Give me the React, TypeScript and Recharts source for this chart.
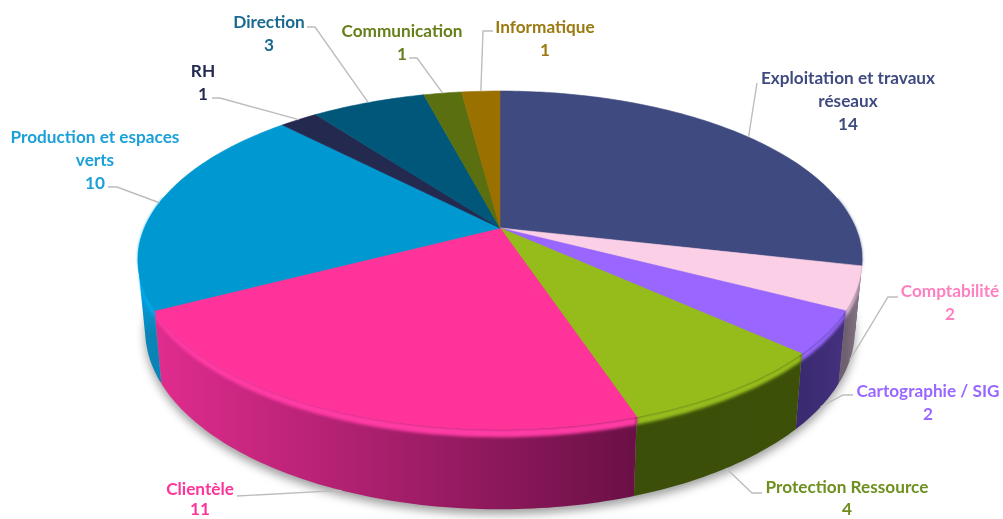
import { Pie, PieChart } from "recharts";

const names = [
  "Exploitation et travaux réseaux",
  "Comptabilité",
  "Cartographie / SIG",
  "Protection Ressource",
  "Clientèle",
  "Production et espaces verts",
  "RH",
  "Direction",
  "Communication",
  "Informatique",
];
const values = [14, 2, 2, 4, 11, 10, 1, 3, 1, 1];
const topColors = ["#3f4b80", "#fbcfe6", "#9966ff", "#95bc1a", "#ff3399", "#0098d0", "#23294f", "#00577a", "#5a7010", "#9a7000"];
const rimColors = ["#3f4b80", "#fbcfe6", "#9966ff", "#95bc1a", "#ff3aa4", "#00aef2", "#23294f", "#00577a", "#5a7010", "#9a7000"];
const textColors = ["#3f4b80", "#ff80c0", "#9966ff", "#6f8f20", "#ff3399", "#1ca0d8", "#23294f", "#1a6a90", "#667f1a", "#9a7a10"];
const sideFrom = ["#2a3460", "#6f6070", "#3a2a70", "#3c4f0a", "#e02c8e", "#00a6e8", "#23294f", "#00577a", "#5a7010", "#9a7000"];
const sideTo = ["#1d2545", "#8a7888", "#45307d", "#3d5008", "#6a1046", "#0a84b6", "#23294f", "#00577a", "#5a7010", "#9a7000"];

// label placement, one per slice: text lines centre x, first line y, line gap, leader elbow + text end, depth of the anchor
const labelLines = [
  ["Exploitation et travaux", "réseaux", "14"],
  ["Comptabilité", "2"],
  ["Cartographie / SIG", "2"],
  ["Protection Ressource", "4"],
  ["Clientèle", "11"],
  ["Production et espaces", "verts", "10"],
  ["RH", "1"],
  ["Direction", "3"],
  ["Communication", "1"],
  ["Informatique", "1"],
];
const labelPos = [
  { x: 848, y: 78, gap: 23, start: [757, 83], elbow: null, depth: 0 },
  { x: 950, y: 291, gap: 23, start: [898, 297], elbow: [888, 297], depth: 1 },
  { x: 928, y: 391, gap: 23, start: [853, 395], elbow: [843, 395], depth: 1 },
  { x: 847, y: 487, gap: 22, start: [762, 493], elbow: [752, 493], depth: 1 },
  { x: 200, y: 489, gap: 20, start: [237, 496], elbow: null, depth: 1 },
  { x: 95, y: 137, gap: 23, start: [108, 187], elbow: [117, 187], depth: 0 },
  { x: 203, y: 71, gap: 23, start: [212, 98], elbow: [220, 98], depth: 0 },
  { x: 269, y: 22, gap: 23, start: [307, 27], elbow: [315, 27], depth: 0 },
  { x: 402, y: 31, gap: 23, start: [409, 58], elbow: [417, 58], depth: 0 },
  { x: 545, y: 27, gap: 23, start: [493, 31], elbow: [483, 31], depth: 0 },
];

const data = names.map((name, i) => ({ name, value: values[i], fill: topColors[i] }));
const wholeDisc = [{ name: "disc", value: values.reduce((a, b) => a + b, 0), fill: "#000" }];

const CX = 500;
const CY = 228;
const PERSP = 0.19;
const RX = 355.5;
const RY = 163;
const RAD = Math.PI / 180;

// pie angle -> point on the tilted disc, t = 0 on the top face, t = 1 on the bottom one
function project(angle: number, t = 0, r = 1) {
  const u = r * Math.cos(angle * RAD);
  const v = -r * Math.sin(angle * RAD);
  const w = 1 - PERSP * v;
  const x = CX + (RX * u) / w;
  const y = CY + (RY * v) / w;
  return {
    x: CX + (x - CX) * (1 - 0.02 * t),
    y: y + t * (68 + 0.06 * (y - CY)),
  };
}

function angles(start: number, end: number) {
  const n = Math.max(2, Math.ceil(Math.abs(end - start)));
  return Array.from({ length: n + 1 }, (_, i) => start + ((end - start) * i) / n);
}

const toPoint = (a: number, t: number) => {
  const p = project(a, t);
  return `${p.x.toFixed(1)},${p.y.toFixed(1)}`;
};

// one wall quad as a subpath, always wound the same way so the nonzero fill has no holes
function quad(a0: number, a1: number) {
  const q = [project(a0, 0), project(a1, 0), project(a1, 1), project(a0, 1)];
  let area = 0;
  q.forEach((p, i) => {
    const n = q[(i + 1) % 4];
    area += p.x * n.y - n.x * p.y;
  });
  if (area < 0) q.reverse();
  return `M${q.map((p) => `${p.x.toFixed(1)} ${p.y.toFixed(1)}`).join("L")}Z`;
}

function TopFace(props: any) {
  const pts = [`${CX},${CY}`, ...angles(props.startAngle, props.endAngle).map((a) => toPoint(a, 0))];
  return <polygon points={pts.join(" ")} fill={props.fill} stroke={props.fill} strokeWidth={0.6} />;
}

function SideFace(props: any) {
  const i = names.indexOf(props.name);
  const as = angles(props.startAngle, props.endAngle);
  // only the front part of the wall is ever seen
  const front = as.filter((a) => Math.sin(a * RAD) < 0.2);
  if (front.length < 2) return <g />;
  const xs = front.map((a) => project(a).x);
  const paint = `side-${i}`;
  const vertical = i === 5;
  const rim = [...front.map((a) => toPoint(a, 0)), ...[...front].reverse().map((a) => toPoint(a, 0.1))];
  const wall = front.slice(1).map((a, k) => quad(front[k], a)).join("");
  return (
    <g>
      <defs>
        <linearGradient
          id={paint}
          gradientUnits="userSpaceOnUse"
          x1={vertical ? 0 : Math.min(...xs)}
          x2={vertical ? 0 : Math.max(...xs)}
          y1={vertical ? 285 : 0}
          y2={vertical ? 335 : 0}
        >
          <stop offset="0%" stopColor={sideFrom[i]} />
          <stop offset="100%" stopColor={sideTo[i]} />
        </linearGradient>
      </defs>
      <path d={wall} fill={`url(#${paint})`} fillRule="nonzero" />
      <polygon points={rim.join(" ")} fill={rimColors[i]} filter="url(#soft)" />
    </g>
  );
}

function ShadowDisc(props: any) {
  const pts = angles(props.startAngle, props.endAngle).map((a) => toPoint(a, 1));
  return (
    <polygon
      points={pts.join(" ")}
      fill="#000"
      fillOpacity={0.38}
      filter="url(#shadow)"
      transform="translate(0 5)"
    />
  );
}

function SliceLabel(props: any) {
  const i = props.index;
  const pos = labelPos[i];
  const anchor = project(props.midAngle, pos.depth);
  const line = [pos.start, ...(pos.elbow ? [pos.elbow] : []), [anchor.x, anchor.y]];
  return (
    <g>
      <polyline
        points={line.map((p) => p.join(",")).join(" ")}
        fill="none"
        stroke="#bdbdbd"
        strokeWidth={1.4}
      />
      {labelLines[i].map((t, k) => (
        <text
          key={k}
          x={pos.x}
          y={pos.y + k * pos.gap}
          dy="0.35em"
          textAnchor="middle"
          fill={textColors[i]}
          fontFamily="Lato, sans-serif"
          fontWeight={700}
          fontSize={17.2}
        >
          {t}
        </text>
      ))}
    </g>
  );
}

export default function App() {
  return (
    <div style={{ position: "absolute", left: 0, top: 0, width: 1003, height: 519, background: "#fff", filter: "blur(0.45px)" }}>
      <PieChart width={1003} height={519} margin={{ top: 0, right: 0, bottom: 0, left: 0 }}>
        <defs>
          <filter id="soft" filterUnits="userSpaceOnUse" x="0" y="0" width="1003" height="519">
            <feGaussianBlur stdDeviation="1.8" />
          </filter>
          <filter id="shadow" filterUnits="userSpaceOnUse" x="0" y="0" width="1003" height="560">
            <feGaussianBlur stdDeviation="5" />
          </filter>
        </defs>
        <Pie
          data={wholeDisc}
          dataKey="value"
          cx={CX}
          cy={CY}
          outerRadius={160}
          startAngle={90}
          endAngle={-270}
          shape={ShadowDisc}
          inactiveShape={ShadowDisc}
          isAnimationActive={false}
          label={false}
          stroke="none"
        />
        <Pie
          data={data}
          dataKey="value"
          cx={CX}
          cy={CY}
          outerRadius={160}
          startAngle={90}
          endAngle={-270}
          shape={SideFace}
          inactiveShape={SideFace}
          isAnimationActive={false}
          label={false}
          stroke="none"
        />
        <Pie
          data={data}
          dataKey="value"
          cx={CX}
          cy={CY}
          outerRadius={160}
          startAngle={90}
          endAngle={-270}
          shape={TopFace}
          inactiveShape={TopFace}
          isAnimationActive={false}
          label={SliceLabel}
          labelLine={false}
          stroke="none"
        />
      </PieChart>
    </div>
  );
}
